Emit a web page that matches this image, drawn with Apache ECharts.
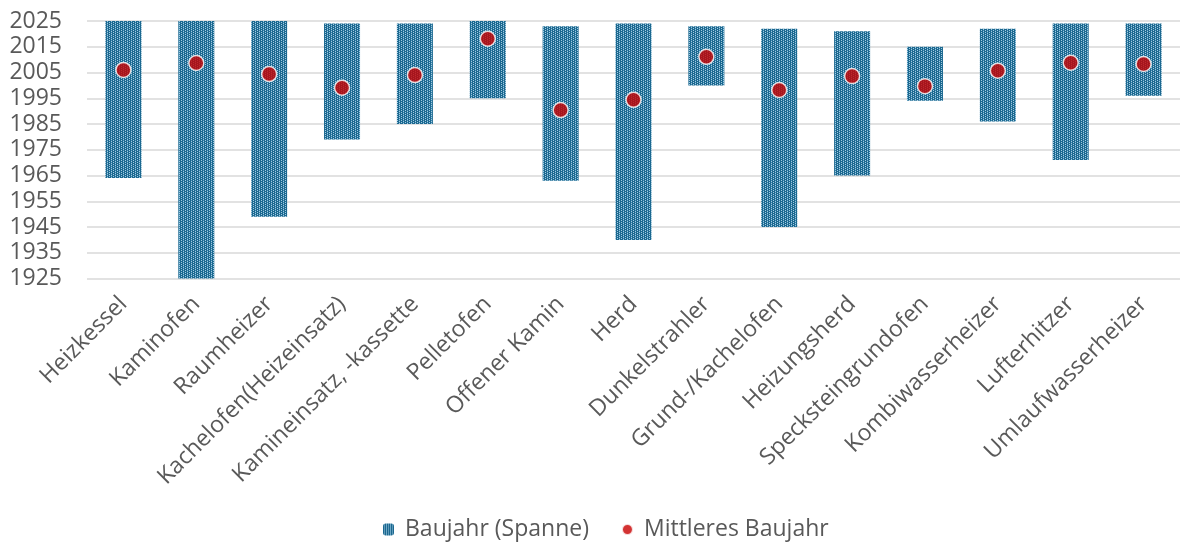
<!DOCTYPE html>
<html>
<head>
<meta charset="utf-8">
<script src="https://cdn.jsdelivr.net/npm/echarts@6/dist/echarts.min.js"></script>
<style>html,body{margin:0;padding:0;background:#fff}#c{width:1180px;height:548px}</style>
</head>
<body>
<div id="c"></div>
<script>
const categories = ["Heizkessel","Kaminofen","Raumheizer","Kachelofen(Heizeinsatz)","Kamineinsatz, -kassette","Pelletofen","Offener Kamin","Herd","Dunkelstrahler","Grund-/Kachelofen","Heizungsherd","Specksteingrundofen","Kombiwasserheizer","Lufterhitzer","Umlaufwasserheizer"];
const minYear = [1964,1925,1949,1979,1985,1995,1963,1940,2000,1945,1965,1994,1986,1971,1996];
const maxYear = [2025,2025,2025,2024,2024,2025,2023,2024,2023,2022,2021,2015,2022,2024,2024];
const meanYear = [2006,2008.7,2004.4,1999.1,2004,2018.1,1990.4,1994.4,2011.1,1998.2,2003.6,1999.7,2005.7,2008.8,2008.3];
const yTicks = {min:1925, max:2025, step:10};

const span = maxYear.map((v,i)=>v-minYear[i]);

// patterned fill
const pc = document.createElement('canvas');
pc.width = 4; pc.height = 2;
const g = pc.getContext('2d');
g.fillStyle = '#1b6890'; g.fillRect(0,0,4,2);
g.fillStyle = '#a3cbe0';
g.fillRect(1,0,1,1);
g.fillRect(3,1,1,1);
g.fillStyle = '#3a85ad';
g.fillRect(3,0,1,1);

const chart = echarts.init(document.getElementById('c'), null, {renderer:'canvas'});
const font = 'Open Sans';
chart.setOption({
  animation:false,
  grid:{left:87, right:-9, top:21, bottom:269.5, containLabel:false},
  legend:{
    data:['Baujahr (Spanne)','Mittleres Baujahr'],
    top:513, left:378,
    itemGap:32, itemWidth:11, itemHeight:12,
    textStyle:{fontFamily:font, fontSize:23, color:'#595959', padding:[0,0,0,6]}
  },
  xAxis:{
    type:'category', data:categories,
    axisLine:{show:false}, axisTick:{show:false},
    axisLabel:{rotate:45, interval:0, fontFamily:font, fontSize:23, color:'#595959', margin:22}
  },
  yAxis:{
    type:'value', min:yTicks.min, max:yTicks.max, interval:yTicks.step,
    axisLine:{show:false}, axisTick:{show:false},
    splitLine:{lineStyle:{color:'#d9d9d9', width:1.5}},
    axisLabel:{fontFamily:font, fontSize:23, color:'#595959', margin:25, formatter:(v)=>String(v)}
  },
  series:[
    {name:'base', type:'bar', stack:'r', data:minYear, barWidth:36,
     itemStyle:{color:'transparent'}, silent:true},
    {name:'Baujahr (Spanne)', type:'bar', stack:'r', data:span, barWidth:36,
     itemStyle:{color:{image:pc, repeat:'repeat'}}},
    {name:'Mittleres Baujahr', type:'scatter', data:meanYear, symbol:'circle', symbolSize:15, z:5,
     itemStyle:{color:'#c80000', borderColor:'#ffffff', borderWidth:1.5}}
  ]
});
</script>
</body>
</html>
